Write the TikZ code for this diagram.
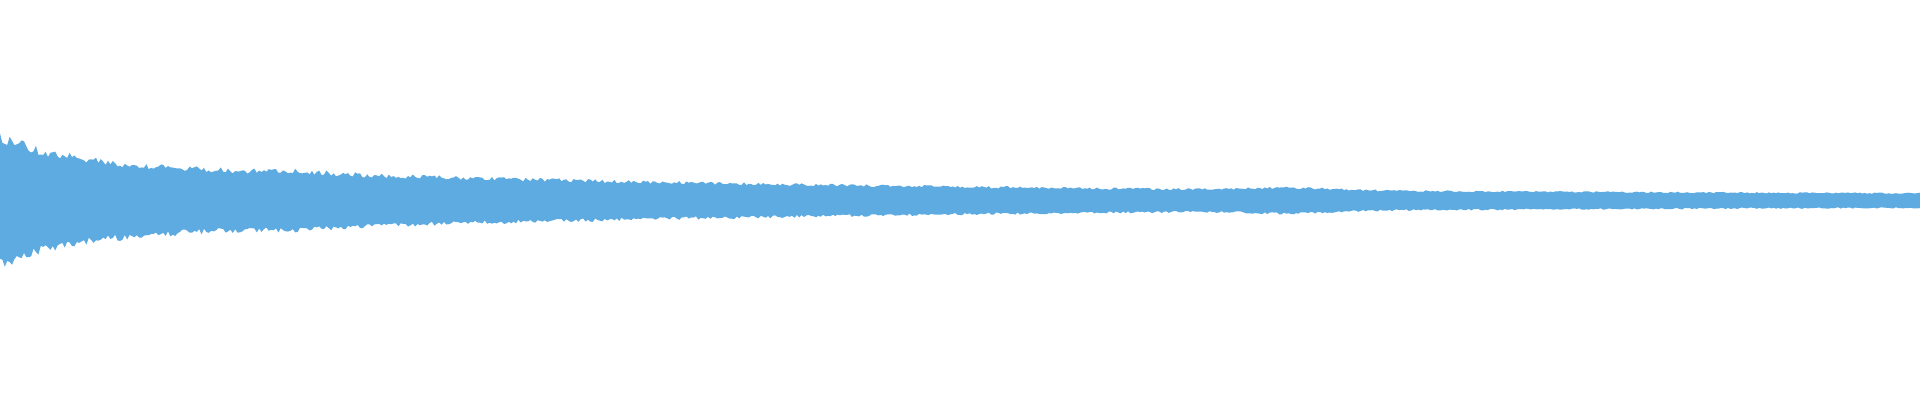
\documentclass[tikz,border=0pt]{standalone}
\definecolor{wavecol}{HTML}{5DABE1}
\begin{document}
\begin{tikzpicture}[x=1pt,y=1pt,
  declare function={env(\x)=5+28*exp(-\x/60)+37*exp(-\x/700)+2.5*exp(-((\x-1290)/60)^2)+2*exp(-((\x-300)/40)^2);},
  wave/.style={fill=wavecol,draw=none}]
\pgfmathsetseed{12345}
\useasboundingbox (0,0) rectangle (1920,400);
\fill[wave] plot[domain=0:1920,samples=801,variable=\x] (\x,{200+env(\x)*(0.82+0.18*rnd)})
  -- plot[domain=1920:0,samples=801,variable=\x] (\x,{199-env(\x)*(0.82+0.18*rnd)}) -- cycle;
\end{tikzpicture}
\end{document}
